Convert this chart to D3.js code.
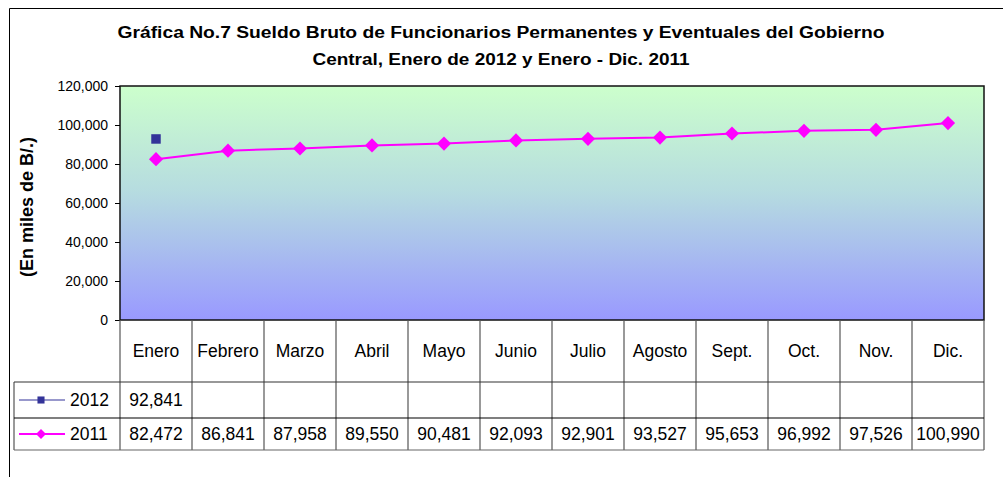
<!DOCTYPE html>
<html>
<head>
<meta charset="utf-8">
<script src="https://cdn.jsdelivr.net/npm/d3@7"></script>
<style>
  body { margin: 0; background: #fff; }
  svg { display: block; font-family: Arial, "Liberation Sans", sans-serif; }
</style>
</head>
<body>
<div id="chart"></div>
<script>
const months = ["Enero", "Febrero", "Marzo", "Abril", "Mayo", "Junio", "Julio", "Agosto", "Sept.", "Oct.", "Nov.", "Dic."];
const values2012 = [92841];
const values2011 = [82472, 86841, 87958, 89550, 90481, 92093, 92901, 93527, 95653, 96992, 97526, 100990];
const yTicks = [0, 20000, 40000, 60000, 80000, 100000, 120000];
const titleLines = [
    "Gráfica No.7 Sueldo Bruto de Funcionarios Permanentes y Eventuales del Gobierno",
    "Central, Enero de 2012 y Enero - Dic. 2011"
];

const width = 1008;
const height = 477;

const svg = d3.select("#chart")
    .append("svg")
    .attr("width", width)
    .attr("height", height);

// outer chart frame (only top and left visible)
svg.append("path")
    .attr("d", "M9.5,477 V8.5 H1003")
    .attr("fill", "none")
    .attr("stroke", "#000")
    .attr("stroke-width", 1);

const plot = { left: 120, right: 984, top: 86, bottom: 320 };

const xScale = d3.scaleBand()
    .domain(months)
    .range([plot.left, plot.right]);

const yScale = d3.scaleLinear()
    .domain([0, 120000])
    .range([plot.bottom, plot.top]);

// title, stretched to the width it has in the original
const titleWidths = [767, 377];
svg.selectAll(".title").data(titleLines)
    .enter().append("text")
    .attr("class", "title")
    .attr("x", 501)
    .attr("y", (d, i) => 38 + i * 27)
    .attr("text-anchor", "middle")
    .attr("font-size", "16px")
    .attr("font-weight", "bold")
    .attr("fill", "#000")
    .attr("textLength", (d, i) => titleWidths[i])
    .attr("lengthAdjust", "spacingAndGlyphs")
    .text(d => d);

// gradient background
const defs = svg.append("defs");
const grad = defs.append("linearGradient")
    .attr("id", "bg")
    .attr("x1", 0).attr("y1", 0).attr("x2", 0).attr("y2", 1);
grad.append("stop").attr("offset", "0%").attr("stop-color", "#CCFFCC");
grad.append("stop").attr("offset", "45%").attr("stop-color", "#B6DCE0");
grad.append("stop").attr("offset", "100%").attr("stop-color", "#9999FF");

svg.append("rect")
    .attr("x", plot.left)
    .attr("y", plot.top)
    .attr("width", plot.right - plot.left)
    .attr("height", plot.bottom - plot.top)
    .attr("fill", "url(#bg)")
    .attr("stroke", "#111")
    .attr("stroke-width", 1.5);

// y axis
const yAxis = d3.axisLeft(yScale)
    .tickValues(yTicks)
    .tickFormat(d3.format(","))
    .tickSize(5)
    .tickPadding(7);

const yAxisG = svg.append("g")
    .attr("transform", `translate(${plot.left}, 0)`)
    .call(yAxis);
yAxisG.select(".domain").remove();
yAxisG.selectAll("line").attr("stroke", "#000");
yAxisG.selectAll("text")
    .attr("font-size", "14px")
    .attr("font-family", "Arial, 'Liberation Sans', sans-serif")
    .attr("fill", "#000");

svg.append("text")
    .attr("transform", `translate(33, 207) rotate(-90)`)
    .attr("text-anchor", "middle")
    .attr("font-size", "18px")
    .attr("font-weight", "bold")
    .attr("fill", "#000")
    .text("(En miles de B/.)");

// data table
const rows = { catTop: plot.bottom, catBottom: 382, r2012Bottom: 418, r2011Bottom: 450 };
const legendLeft = 14;

const table = svg.append("g");

table.selectAll(".vsep").data(months.concat(["end"]))
    .enter().append("line")
    .attr("x1", (d, i) => i < months.length ? xScale(d) : plot.right)
    .attr("x2", (d, i) => i < months.length ? xScale(d) : plot.right)
    .attr("y1", plot.bottom)
    .attr("y2", rows.r2011Bottom)
    .attr("stroke", "#555")
    .attr("stroke-width", 1.2);

table.append("line")
    .attr("x1", legendLeft).attr("x2", legendLeft)
    .attr("y1", rows.catBottom).attr("y2", rows.r2011Bottom)
    .attr("stroke", "#555").attr("stroke-width", 1.2);

[[legendLeft, rows.catBottom, "#333"], [legendLeft, rows.r2012Bottom, "#000"], [legendLeft, rows.r2011Bottom, "#666"]]
    .forEach(([x0, y, c]) => {
        table.append("line")
            .attr("x1", x0).attr("x2", plot.right)
            .attr("y1", y).attr("y2", y)
            .attr("stroke", c)
            .attr("stroke-width", 1.2);
    });

table.selectAll(".cat").data(months)
    .enter().append("text")
    .attr("x", d => xScale(d) + xScale.bandwidth() / 2)
    .attr("y", (rows.catTop + rows.catBottom) / 2 + 6)
    .attr("text-anchor", "middle")
    .attr("font-size", "17.5px")
    .attr("fill", "#000")
    .text(d => d);

const fmt = d3.format(",");
const seriesRows = [
    { name: "2012", values: values2012, color: "#333399", symbol: "square", y: (rows.catBottom + rows.r2012Bottom) / 2 },
    { name: "2011", values: values2011, color: "#FF00FF", symbol: "diamond", y: (rows.r2012Bottom + rows.r2011Bottom) / 2 }
];

// diamonds are squares turned 45 degrees
const markerPath = size => d3.symbol(d3.symbolSquare, size)();
const markerRotate = kind => kind === "square" ? 0 : 45;

seriesRows.forEach(s => {
    table.selectAll(null).data(s.values)
        .enter().append("text")
        .attr("x", (d, i) => xScale(months[i]) + xScale.bandwidth() / 2)
        .attr("y", s.y + 6)
        .attr("text-anchor", "middle")
        .attr("font-size", "17.5px")
        .attr("fill", "#000")
        .text(d => fmt(d));

    // legend key
    table.append("line")
        .attr("x1", 19).attr("x2", 65)
        .attr("y1", s.y).attr("y2", s.y)
        .attr("stroke", s.color)
        .attr("stroke-width", s.symbol === "square" ? 1.2 : 2);
    table.append("path")
        .attr("d", markerPath(50))
        .attr("transform", `translate(41, ${s.y}) rotate(${markerRotate(s.symbol)})`)
        .attr("fill", s.color);
    table.append("text")
        .attr("x", 70)
        .attr("y", s.y + 6)
        .attr("font-size", "17.5px")
        .attr("fill", "#000")
        .text(s.name);
});

// series lines and markers
const lineGenerator = d3.line()
    .x((d, i) => xScale(months[i]) + xScale.bandwidth() / 2)
    .y(d => yScale(d));

svg.append("path")
    .attr("fill", "none")
    .attr("stroke", "#FF00FF")
    .attr("stroke-width", 2)
    .attr("d", lineGenerator(values2011));

svg.selectAll(".m2011").data(values2011)
    .enter().append("path")
    .attr("d", markerPath(100))
    .attr("transform", (d, i) => `translate(${xScale(months[i]) + xScale.bandwidth() / 2}, ${yScale(d)}) rotate(45)`)
    .attr("fill", "#FF00FF");

svg.selectAll(".m2012").data(values2012)
    .enter().append("path")
    .attr("d", markerPath(90))
    .attr("transform", (d, i) => `translate(${xScale(months[i]) + xScale.bandwidth() / 2}, ${yScale(d)})`)
    .attr("fill", "#333399");
</script>
</body>
</html>
